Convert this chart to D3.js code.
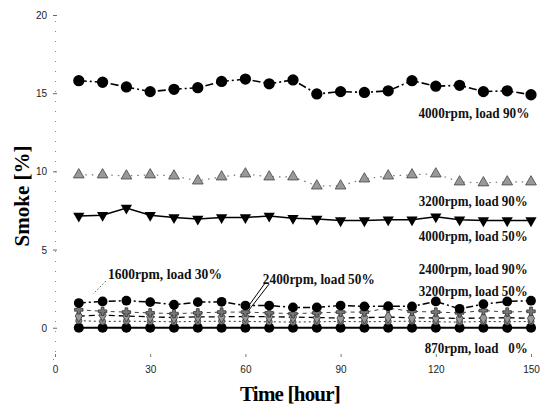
<!DOCTYPE html>
<html>
<head>
	<meta charset="UTF-8">
	<title>index</title>
	<script src="https://d3js.org/d3.v7.min.js"></script>
	<style>
		body { margin: 0; background: #fff; }
		svg { display: block; }
		.tick text { font-family: "Liberation Sans", Arial, sans-serif; font-size: 10px; fill: #222; }
		.lbl { font-family: "Liberation Serif", "Times New Roman", serif; font-size: 15px; font-weight: bold; fill: #111; }
		.title { font-family: "Liberation Serif", "Times New Roman", serif; font-size: 21px; font-weight: bold; fill: #000; }
	</style>
</head>
<body>
<script>
	// ---- data ----
	var hours = [7.5, 15, 22.5, 30, 37.5, 45, 52.5, 60, 67.5, 75, 82.5, 90, 97.5, 105, 112.5, 120, 127.5, 135, 142.5, 150];

	var smoke4000L90 = [15.8, 15.7, 15.4, 15.1, 15.25, 15.35, 15.75, 15.9, 15.6, 15.85, 14.95, 15.1, 15.05, 15.15, 15.8, 15.45, 15.5, 15.1, 15.15, 14.9];
	var smoke3200L90 = [9.78, 9.78, 9.71, 9.78, 9.71, 9.39, 9.65, 9.84, 9.65, 9.65, 9.07, 9.07, 9.52, 9.71, 9.78, 9.84, 9.33, 9.27, 9.33, 9.33];
	var smoke4000L50 = [7.15, 7.2, 7.65, 7.2, 7.05, 6.95, 7.05, 7.05, 7.15, 7.0, 6.95, 6.85, 6.85, 6.9, 6.9, 7.1, 6.9, 6.85, 6.85, 6.85];
	var smoke1600L30 = [1.58, 1.68, 1.73, 1.64, 1.47, 1.64, 1.66, 1.42, 1.42, 1.3, 1.3, 1.42, 1.36, 1.38, 1.36, 1.68, 1.21, 1.51, 1.68, 1.73];
	var smoke2400L90 = [1.15, 1.05, 1.0, 0.95, 0.9, 0.95, 1.0, 1.0, 0.95, 0.9, 0.95, 1.0, 1.0, 1.25, 1.05, 1.0, 0.95, 1.1, 1.0, 1.05];
	var smoke2400L50 = [0.75, 0.8, 0.75, 0.7, 0.65, 0.7, 0.7, 0.72, 0.7, 0.68, 0.65, 0.62, 0.65, 0.68, 0.64, 0.62, 0.6, 0.62, 0.64, 0.6];
	var smoke3200L50 = [0.45, 0.4, 0.42, 0.4, 0.38, 0.4, 0.42, 0.4, 0.38, 0.36, 0.38, 0.4, 0.38, 0.4, 0.42, 0.38, 0.36, 0.4, 0.38, 0.4];
	var smoke870L0 = [0, 0, 0, 0, 0, 0, 0, 0, 0, 0, 0, 0, 0, 0, 0, 0, 0, 0, 0, 0];

	var xTicks = [0, 30, 60, 90, 120, 150];
	var yTicks = [0, 5, 10, 15, 20];

	// ---- styling / layout ----
	var W = 541, H = 414;
	var svg = d3.select("body").append("svg").attr("width", W).attr("height", H);

	var x = d3.scaleLinear().domain([0, 150]).range([55, 531]);
	var y = d3.scaleLinear().domain([-2, 20]).range([359, 15]);

	// y axis (faint, scanned look)
	var yAxis = d3.axisLeft(y).tickValues(yTicks).tickSize(2).tickPadding(6);
	var gy = svg.append("g").attr("transform", "translate(55,0)").call(yAxis);
	gy.select(".domain").attr("stroke", "#888").attr("stroke-width", 1).attr("stroke-dasharray", "1,9");
	gy.selectAll(".tick line").attr("x1", 2).attr("x2", -2).attr("stroke", "#666");
	gy.selectAll(".tick text").attr("dy", "0.35em");

	// x axis: only small ticks visible
	var xAxis = d3.axisBottom(x).tickValues(xTicks).tickSizeInner(-3).tickSizeOuter(0).tickPadding(9);
	var gx = svg.append("g").attr("transform", "translate(0,357)").call(xAxis);
	gx.select(".domain").remove();
	gx.selectAll(".tick line").attr("stroke", "#777");

	var series = [
		{ name: "870rpm, load 0%", values: smoke870L0, stroke: "#000", width: 2, dash: null, sym: d3.symbolCircle, size: 80, fill: "#000", mstroke: "none" },
		{ name: "3200rpm, load 50%", values: smoke3200L50, stroke: "#333", width: 1, dash: "2,3", sym: d3.symbolCircle, size: 30, fill: "#888", mstroke: "#444" },
		{ name: "2400rpm, load 50%", values: smoke2400L50, stroke: "#000", width: 1.3, dash: "6,4", sym: d3.symbolDiamond, size: 45, fill: "#999", mstroke: "#333" },
		{ name: "2400rpm, load 90%", values: smoke2400L90, stroke: "#444", width: 1, dash: "4,4", sym: d3.symbolCross, size: 40, fill: "#777", mstroke: "#333" },
		{ name: "1600rpm, load 30%", values: smoke1600L30, stroke: "#000", width: 1.5, dash: "7,3,2,3", sym: d3.symbolCircle, size: 75, fill: "#000", mstroke: "none" },
		{ name: "4000rpm, load 50%", values: smoke4000L50, stroke: "#000", width: 1.5, dash: null, sym: d3.symbolTriangle, size: 55, fill: "#000", mstroke: "none", rot: 180 },
		{ name: "3200rpm, load 90%", values: smoke3200L90, stroke: "#777", width: 1.2, dash: "1.5,5", sym: d3.symbolTriangle, size: 50, fill: "#999", mstroke: "#444" },
		{ name: "4000rpm, load 90%", values: smoke4000L90, stroke: "#000", width: 1.6, dash: "8,3,2,3", sym: d3.symbolCircle, size: 100, fill: "#000", mstroke: "none" }
	];

	var line = d3.line().x(function(d) { return x(d[0]); }).y(function(d) { return y(d[1]); });

	series.forEach(function(s) {
		var pts = hours.map(function(h, i) { return [h, s.values[i]]; });
		svg.append("path").datum(pts)
			.attr("d", line).attr("fill", "none")
			.attr("stroke", s.stroke).attr("stroke-width", s.width)
			.attr("stroke-dasharray", s.dash);
		svg.append("g").selectAll("path").data(pts).enter().append("path")
			.attr("d", d3.symbol().type(s.sym).size(s.size))
			.attr("transform", function(d) { return "translate(" + x(d[0]) + "," + y(d[1]) + ")" + (s.rot ? " rotate(" + s.rot + ")" : ""); })
			.attr("fill", s.fill).attr("stroke", s.mstroke).attr("stroke-width", 0.8);
	});

	// ---- annotations (position in data units, length in px) ----
	var labels = [
		{ text: "4000rpm, load 90%", t: 149.5, v: 13.41, len: 111, anchor: "end" },
		{ text: "3200rpm, load 90%", t: 149.0, v: 7.78, len: 109, anchor: "end" },
		{ text: "4000rpm, load 50%", t: 149.0, v: 5.54, len: 109, anchor: "end" },
		{ text: "2400rpm, load 90%", t: 149.0, v: 3.43, len: 109, anchor: "end" },
		{ text: "3200rpm, load 50%", t: 149.0, v: 2.03, len: 109, anchor: "end" },
		{ text: "870rpm, load\u00a0\u00a0 0%", t: 149.0, v: -1.62, len: 103, anchor: "end" },
		{ text: "1600rpm, load 30%", t: 16.7, v: 3.11, len: 114, anchor: "start" },
		{ text: "2400rpm, load 50%", t: 65.5, v: 2.79, len: 112, anchor: "start" }
	];
	// squeeze each label horizontally (condensed scan look)
	labels.forEach(function(l) {
		var px = x(l.t);
		if (l.anchor === "end") px -= l.len;
		var t = svg.append("text").attr("class", "lbl").attr("x", 0).attr("y", 0).text(l.text);
		var k = l.len / t.node().getComputedTextLength();
		t.attr("transform", "translate(" + px + "," + y(l.v) + ") scale(" + k + ",1)");
	});

	// leader lines
	var leaders = [
		[[16.0, 2.98], [12.0, 2.15], "1.5,2", "#555"],
		[[66.0, 2.8], [60.5, 1.25], null, "#000"],
		[[67.5, 2.8], [61.0, 1.1], null, "#000"]
	];
	leaders.forEach(function(ld) {
		svg.append("line")
			.attr("x1", x(ld[0][0])).attr("y1", y(ld[0][1]))
			.attr("x2", x(ld[1][0])).attr("y2", y(ld[1][1]))
			.attr("stroke", ld[3]).attr("stroke-width", 1)
			.attr("stroke-dasharray", ld[2]);
	});

	// axis titles
	svg.append("text").attr("class", "title")
		.attr("transform", "translate(29,196) rotate(-90)")
		.attr("text-anchor", "middle").text("Smoke [%]");
	svg.append("text").attr("class", "title")
		.attr("x", 290).attr("y", 401).attr("text-anchor", "middle")
		.attr("letter-spacing", "-0.8").text("Time [hour]");
</script>
</body>
</html>
